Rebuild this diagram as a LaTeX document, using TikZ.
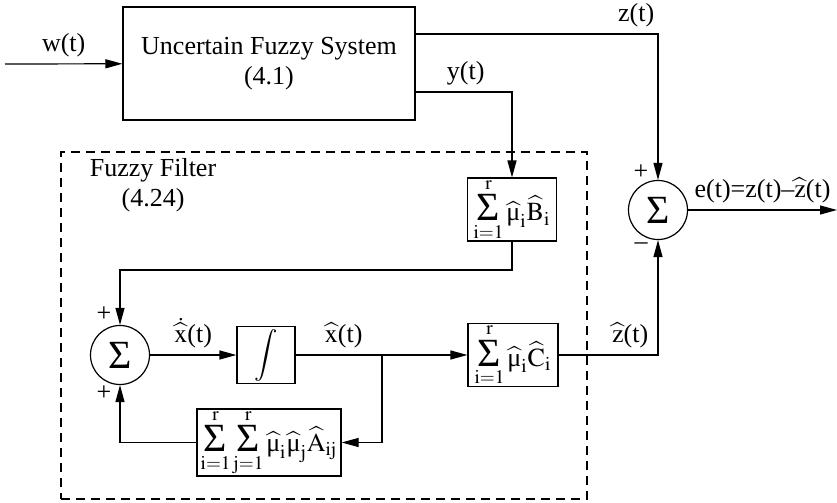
\documentclass[tikz,border=0pt]{standalone}
\usepackage{amsmath}
\usepackage{mathptmx}
\usepackage{fontspec}
\setmainfont{Liberation Serif}
\usetikzlibrary{arrows.meta, positioning, calc}

\newcommand{\muh}{\widehat{\text{μ}}}
\newcommand{\bsum}{\mathop{\mbox{\fontsize{20}{20}\selectfont Σ}}\limits}

\begin{document}
\begin{tikzpicture}[
  x=0.5pt, y=-0.5pt,
  font=\fontsize{13}{15}\selectfont,
  block/.style={draw, line width=0.6pt, inner sep=0pt, text centered},
  summer/.style={draw, circle, line width=0.6pt, minimum size=29.5pt,
                 inner sep=0pt, font=\fontsize{20}{20}\selectfont},
  filterbox/.style={draw, dash pattern=on 4.5pt off 3pt, line width=0.6pt},
  arrow/.style={-{Triangle[length=8.5pt, width=4.5pt]}, line width=0.6pt}
]
\useasboundingbox (0,0) rectangle (837,503);

% plant and error summer
\node[block, minimum width=146pt, minimum height=56.5pt, align=center] (sys) at (269,63.5) {Uncertain Fuzzy System\\(4.1)};
\node[summer] (sumR) at (658,210) {Σ};

% filter
\node[filterbox, minimum width=263pt, minimum height=173.5pt] (filter) at (324,325.5) {};
\node[align=center] (filtername) at (153,185) {Fuzzy Filter\\(4.24)};
\node[block, minimum width=44.5pt, minimum height=28.5pt] (Bsum) at (512,209.5) {$\bsum_{\mathrm{i=1}}^{\mathrm{r}}\muh_{\mathrm{i}}\widehat{\mathrm{B}}_{\mathrm{i}}$};
\node[summer] (sumL) at (120,355) {Σ};
\node[block, minimum width=29pt, minimum height=28.5pt] (int) at (266,355) {$\displaystyle\int$};
\node[block, minimum width=45pt, minimum height=29.5pt] (Csum) at (513,355) {$\bsum_{\mathrm{i=1}}^{\mathrm{r}}\muh_{\mathrm{i}}\widehat{\mathrm{C}}_{\mathrm{i}}$};
\node[block, minimum width=72pt, minimum height=28.5pt] (Asum) at (269,442.5) {$\bsum_{\mathrm{i=1}}^{\mathrm{r}}\bsum_{\mathrm{j=1}}^{\mathrm{r}}\muh_{\mathrm{i}}\muh_{\mathrm{j}}\widehat{\mathrm{A}}_{\mathrm{ij}}$};

\coordinate (win) at (5,64);
\coordinate (eout) at (837,210);
\coordinate (branch) at (382,355);

% signs
\node (plusR) at (641,172) {+};
\node (minusR) at (641,246) {–};
\node (plusLt) at (104,314) {+};
\node (plusLb) at (104,393) {+};

\draw[arrow] (win) -- node[above] {w(t)} (sys);
\draw[arrow] ([yshift=14.75pt]sys.east) -| node[above, pos=0.455] {z(t)} (sumR);
\draw[arrow] ([yshift=-14.25pt]sys.east) -| node[above, pos=0.26] {y(t)} (Bsum);
\draw[arrow] (Bsum.south) -- ++(0,28.5) -| (sumL.north);
\draw[arrow] (sumL) -- node[above] {$\dot{\widehat{\mathrm{x}}}$(t)} (int);
\draw[arrow] (int) -- node[above, pos=0.28] {$\widehat{\mathrm{x}}$(t)} (Csum);
\draw[arrow] (branch) |- (Asum);
\draw[arrow] (Asum) -| (sumL);
\draw[arrow] (Csum) -| node[above, pos=0.36] {$\widehat{\mathrm{z}}$(t)} (sumR);
\draw[arrow] (sumR) -- node[above] {e(t)=z(t)–$\widehat{\mathrm{z}}$(t)} (eout);
\end{tikzpicture}
\end{document}
